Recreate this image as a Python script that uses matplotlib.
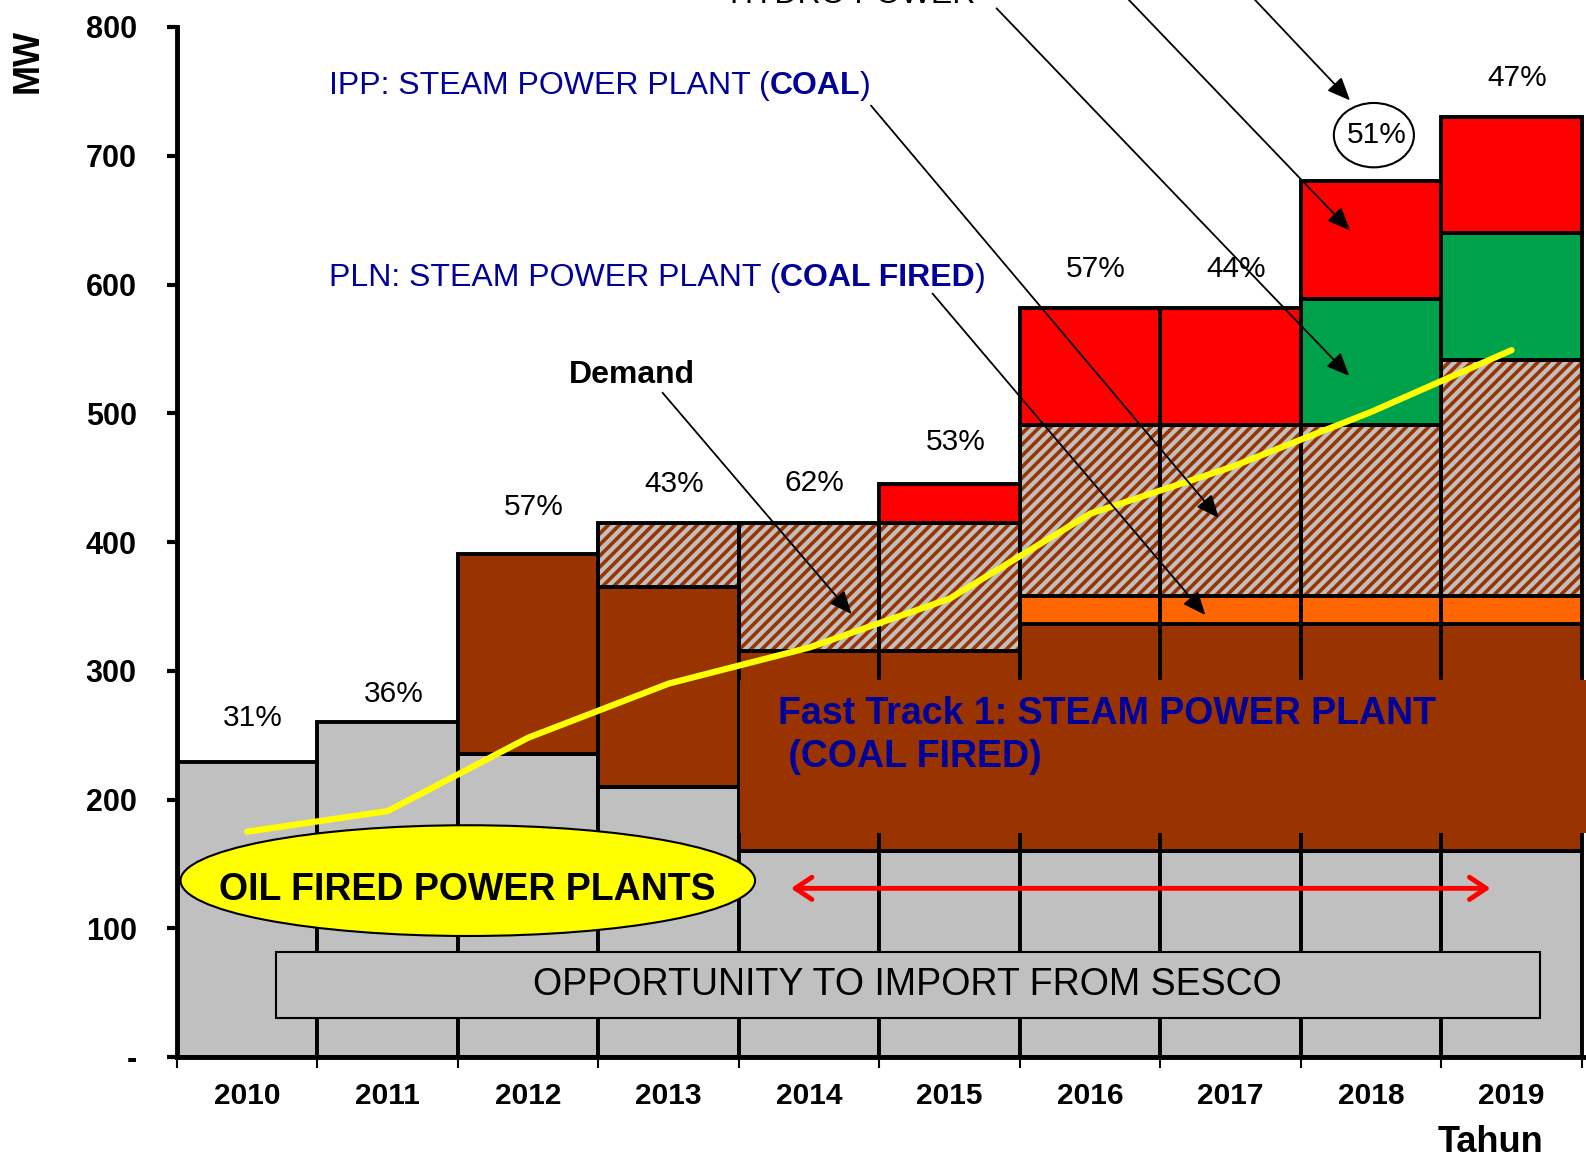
import numpy as np
import matplotlib.pyplot as plt
from matplotlib.patches import Ellipse, Rectangle, FancyArrowPatch

plt.rcParams['font.family'] = ['Liberation Sans', 'DejaVu Sans']
plt.rcParams['hatch.linewidth'] = 2.6

# Data (MW)
years = ['2010', '2011', '2012', '2013', '2014', '2015', '2016', '2017', '2018', '2019']
oil_fired = [229, 260, 235, 210, 160, 160, 160, 160, 160, 160]
fast_track = [0, 0, 156, 155, 155, 155, 176, 176, 176, 176]
pln_steam = [0, 0, 0, 0, 0, 0, 22, 22, 22, 22]
ipp_steam = [0, 0, 0, 50, 100, 100, 133, 133, 133, 183]
hydro = [0, 0, 0, 0, 0, 0, 0, 0, 98, 99]
other_new = [0, 0, 0, 0, 0, 30, 91, 91, 91, 90]
demand = [175, 191, 248, 290, 318, 356, 422, 458, 501, 549]
reserve_pct = ['31%', '36%', '57%', '43%', '62%', '53%', '57%', '44%', '51%', '47%']

# label heights above the bars (layout only)
pct_y = [263, 282, 427, 445, 446, 478, 612, 612, 716, 760]

GRAY = '#C0C0C0'
BROWN = '#993300'
ORANGE = '#FF6600'
RED = '#FF0000'
GREEN = '#00A14B'
BLUE = '#000099'

x = np.arange(len(years))

fig = plt.figure(figsize=(15.86, 11.68), dpi=100)
ax = fig.add_axes([177 / 1586, 111 / 1168, 1409 / 1586, 1030 / 1168])

bottom = np.zeros(len(years))
layers = [(oil_fired, GRAY, None), (fast_track, BROWN, None), (pln_steam, ORANGE, None),
          (ipp_steam, GRAY, '///'), (hydro, GREEN, None), (other_new, RED, None)]
for vals, color, hatch in layers:
    vals = np.array(vals, dtype=float)
    m = vals > 0
    if hatch:
        ax.bar(x[m], vals[m], width=1.0, bottom=bottom[m], color=color,
               edgecolor=BROWN, hatch=hatch, linewidth=0, zorder=2)
        ax.bar(x[m], vals[m], width=1.0, bottom=bottom[m], fill=False,
               edgecolor='black', linewidth=2.8, zorder=2)
    else:
        ax.bar(x[m], vals[m], width=1.0, bottom=bottom[m], color=color,
               edgecolor='black', linewidth=2.8, zorder=2)
    bottom += vals

# brown label box over fast track block
ax.add_patch(Rectangle((3.507, 174), 6.1, 119, facecolor=BROWN, edgecolor='none',
                       zorder=3, clip_on=False))
ax.text(3.78, 249.5, 'Fast Track 1: STEAM POWER PLANT\n (COAL FIRED)', color=BLUE,
        fontsize=27, fontweight='bold', va='center', ha='left', zorder=4,
        linespacing=1.25)

# demand line
ax.plot(x, demand, color='#FFFF00', linewidth=4.5, zorder=5, solid_capstyle='round')

# oil fired ellipse
ax.add_patch(Ellipse((1.57, 137), 4.09, 86, facecolor='#FFFF00', edgecolor='black',
                     linewidth=1.5, zorder=6))
ax.text(1.57, 130, 'OIL FIRED POWER PLANTS', fontsize=27, fontweight='bold',
        ha='center', va='center', zorder=7)

# import box
ax.add_patch(Rectangle((0.205, 30.5), 9.0, 51, facecolor=GRAY, edgecolor='black',
                       linewidth=1.5, zorder=6))
ax.text(4.7, 56, 'OPPORTUNITY TO IMPORT FROM SESCO', fontsize=27,
        ha='center', va='center', zorder=7)

# red double arrow
ax.add_patch(FancyArrowPatch((3.85, 131), (8.87, 131), arrowstyle='<->,head_length=12,head_width=8',
                             color=RED, linewidth=3.5, zorder=7))

# percentages
for i, (p, py) in enumerate(zip(reserve_pct, pct_y)):
    ax.text(i + 0.04, py, p, fontsize=21.5, ha='center', va='center', zorder=8)
ax.add_patch(Ellipse((8.02, 716), 0.57, 50, facecolor='none', edgecolor='black',
                     linewidth=1.5, zorder=8, clip_on=False))


def arrow(p0, p1):
    ax.add_patch(FancyArrowPatch(p0, p1, arrowstyle='-|>,head_length=14,head_width=6',
                                 color='black', linewidth=1.3, zorder=9, clip_on=False,
                                 shrinkA=0, shrinkB=0))


# mixed weight labels
def mixed(xp, yp, parts):
    prev = None
    for s, w in parts:
        if prev is None:
            prev = ax.text(xp, yp, s, color=BLUE, fontsize=23, fontweight=w,
                           ha='left', va='center', zorder=9)
        else:
            prev = ax.annotate(s, xy=(1, 0), xycoords=prev, color=BLUE, fontsize=23,
                               fontweight=w, ha='left', va='bottom', zorder=9)


mixed(0.58, 754, [('IPP: STEAM POWER PLANT (', 'normal'), ('COAL', 'bold'), (')', 'normal')])
mixed(0.58, 605, [('PLN: STEAM POWER PLANT (', 'normal'), ('COAL FIRED', 'bold'), (')', 'normal')])
ax.text(2.74, 530, 'Demand', fontsize=23, fontweight='bold', ha='center', va='center', zorder=9)
ax.text(4.31, 818.5, 'HYDRO POWER', fontsize=23, ha='center', va='baseline',
        zorder=9, clip_on=False)

arrow((2.956, 516), (4.302, 344))
arrow((4.44, 739), (6.916, 418.6))
arrow((4.878, 593), (6.82, 343.3))
arrow((5.334, 814.5), (7.845, 529))
arrow((6.14, 836.5), (7.85, 642))
arrow((7.04, 836.5), (7.85, 743))

# axes
ax.set_xlim(-0.5, 9.53)
ax.set_ylim(0, 800)
for s in ['top', 'right']:
    ax.spines[s].set_visible(False)
ax.spines['left'].set_linewidth(3.5)
ax.spines['bottom'].set_linewidth(3.5)
ax.spines['left'].set_zorder(10)
ax.spines['bottom'].set_zorder(10)

ax.set_yticks(np.arange(0, 801, 100))
ax.set_yticklabels(['-'] + [str(v) for v in range(100, 801, 100)])
ax.tick_params(axis='y', direction='out', length=7, width=3, pad=22,
               labelsize=22)
for t in ax.get_yticklabels():
    t.set_fontweight('bold')

ax.set_xticks(x)
ax.set_xticklabels(years)
ax.set_xticks(np.arange(-0.5, 10, 1), minor=True)
ax.tick_params(axis='x', which='major', length=0, pad=18, labelsize=21.5)
ax.tick_params(axis='x', which='minor', length=8, width=1.5, direction='out')
for t in ax.get_xticklabels():
    t.set_fontweight('bold')

fig.text(28 / 1586, 1 - 61 / 1168, 'MW', rotation=90, fontsize=26, fontweight='bold',
         ha='center', va='center')
fig.text(1543 / 1586, 1 - 1143 / 1168, 'Tahun', fontsize=26, fontweight='bold',
         ha='right', va='center')

fig.savefig('out.png', dpi=100)
